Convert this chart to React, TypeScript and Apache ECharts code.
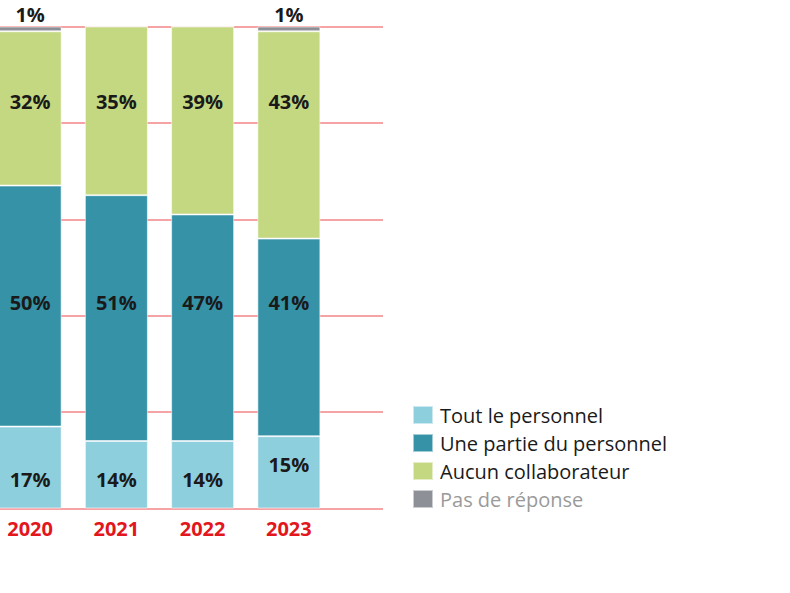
import React, { useEffect, useRef } from "react";
import * as echarts from "echarts";

// Survey answers per year, in percent
const categories = ["2020", "2021", "2022", "2023"];
const toutLePersonnel = [17, 14, 14, 15];
const unePartieDuPersonnel = [50, 51, 47, 41];
const aucunCollaborateur = [32, 35, 39, 43];
const pasDeReponse = [1, 0, 0, 1];

const seriesNames = [
  "Tout le personnel",
  "Une partie du personnel",
  "Aucun collaborateur",
  "Pas de réponse",
];

const COLORS = ["#8ecfdd", "#3592a7", "#c3d880", "#8d9097"];
const FONT = "'Open Sans', 'Noto Sans', sans-serif";

// The chart canvas starts a little left of the page so the first bar is cut by the edge
const SHIFT = 13;

// Plot geometry
const GRID_TOP = 26.5;
const GRID_HEIGHT = 482;
const PX_PER_PCT = GRID_HEIGHT / 100;

// Labels sit on common rows (in % of the axis) rather than at each segment's centre
const LABEL_ROWS = [
  [6, 6, 6, 9.1],
  [42.7, 42.7, 42.7, 42.7],
  [84.4, 84.4, 84.4, 84.4],
];

export default function App() {
  const ref = useRef<HTMLDivElement>(null);

  useEffect(() => {
    document.body.style.margin = "0";
    document.body.style.overflow = "hidden";
    if (!ref.current) return;
    const chart = echarts.init(ref.current, undefined, { renderer: "svg" });

    const stacks = [toutLePersonnel, unePartieDuPersonnel, aucunCollaborateur, pasDeReponse];

    const makeData = (k: number) =>
      stacks[k].map((v, i) => {
        let base = 0;
        for (let j = 0; j < k; j++) base += stacks[j][i];
        const item: any = { value: v };
        if (k < 3) {
          const mid = base + v / 2;
          item.label = { offset: [0, (mid - LABEL_ROWS[k][i]) * PX_PER_PCT] };
        }
        return item;
      });

    const labelStyle = {
      show: true,
      fontFamily: FONT,
      fontWeight: "bold" as const,
      fontSize: 20,
      color: "#1a1a1a",
      formatter: (p: any) => (p.value > 0 ? `${p.value}%` : ""),
    };

    const series: any[] = stacks.map((_, k) => ({
      name: seriesNames[k],
      type: "bar",
      stack: "total",
      xAxisIndex: 0,
      yAxisIndex: 0,
      barWidth: 63,
      data: makeData(k),
      itemStyle: {
        color: COLORS[k],
        borderColor: "rgba(255,255,255,0.55)",
        borderWidth: 1,
      },
      label:
        k < 3
          ? { ...labelStyle, position: "inside" }
          : { ...labelStyle, position: "top", distance: 3, lineHeight: 18 },
    }));

    chart.setOption({
      animation: false,
      backgroundColor: "#ffffff",
      grid: [
        // bars
        { left: 0, top: GRID_TOP, width: 345, height: GRID_HEIGHT },
        // reference lines, wider than the bars
        { left: SHIFT, top: GRID_TOP, width: 383, height: GRID_HEIGHT },
      ],
      xAxis: [
        {
          type: "category",
          gridIndex: 0,
          data: categories,
          axisLine: { show: false },
          axisTick: { show: false },
          axisLabel: {
            color: "#e3151d",
            fontFamily: FONT,
            fontWeight: "bold",
            fontSize: 20,
            margin: 10,
          },
        },
        {
          type: "category",
          gridIndex: 1,
          data: categories,
          show: false,
        },
      ],
      yAxis: [
        {
          type: "value",
          gridIndex: 0,
          min: 0,
          max: 100,
          interval: 20,
          show: false,
          splitLine: { show: false },
        },
        {
          type: "value",
          gridIndex: 1,
          min: 0,
          max: 100,
          interval: 20,
          axisLine: { show: false },
          axisTick: { show: false },
          axisLabel: { show: false },
          splitLine: { show: true, lineStyle: { color: "#f5a3a5", width: 2 } },
        },
      ],
      legend: {
        orient: "vertical",
        left: 412 + SHIFT,
        top: 405,
        padding: 0,
        itemWidth: 20,
        itemHeight: 18,
        itemGap: 8,
        icon: "rect",
        selectedMode: false,
        textStyle: {
          fontFamily: FONT,
          fontSize: 20,
          color: "#1a1a1a",
          padding: [0, 0, 0, 2],
        },
        data: seriesNames.map((name, i) => ({
          name,
          textStyle: i === 3 ? { color: "#9a9a9a" } : undefined,
        })),
      },
      series,
    });

    return () => chart.dispose();
  }, []);

  return (
    <div
      ref={ref}
      style={{ width: 790 + SHIFT, height: 593, marginLeft: -SHIFT }}
    />
  );
}
